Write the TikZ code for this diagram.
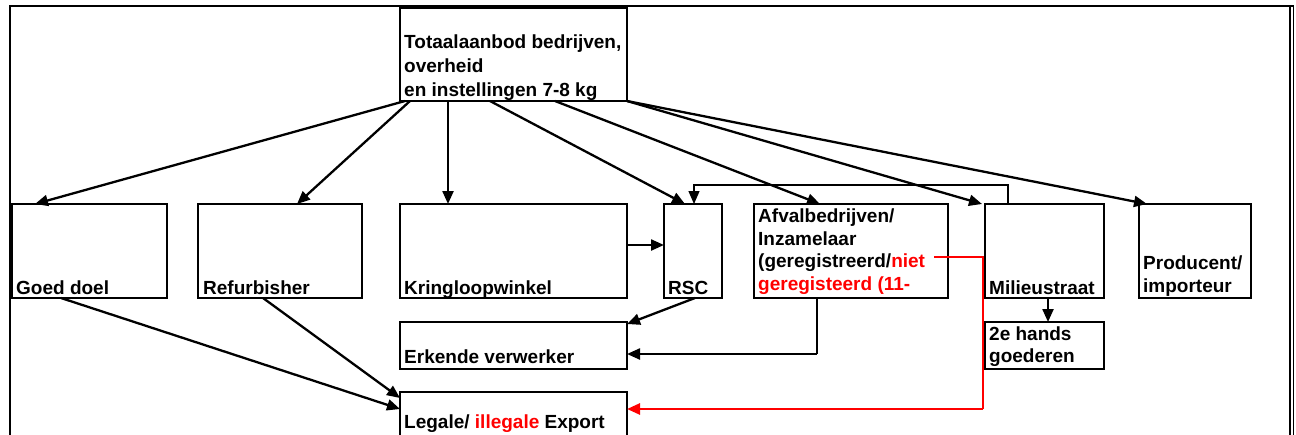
\documentclass[tikz,border=0pt]{standalone}
\usepackage{fontspec}
\setmainfont{Liberation Sans}
\usetikzlibrary{arrows.meta}
\definecolor{rred}{RGB}{255,0,0}
\begin{document}
\begin{tikzpicture}[x=1pt,y=-1pt,
  box/.style={draw,line width=2.8pt,inner sep=0pt,outer sep=0pt,anchor=north west},
  lbl/.style={inner sep=0pt,anchor=base west,align=left,font=\fontsize{19}{23}\selectfont\bfseries},
  arr/.style={line width=2.3pt,-{Triangle[length=13pt,width=11pt]}},
  thinarr/.style={line width=1.2pt,-{Triangle[length=13pt,width=11pt]}},
  thinline/.style={line width=1.2pt},
  redline/.style={line width=1.2pt,draw=rred},
  redarr/.style={line width=2.6pt,draw=rred,-{Triangle[length=13pt,width=11pt]}},
  frame/.style={line width=2.2pt}]
\useasboundingbox (0,0) rectangle (1296,434);
% outer frame
\draw[frame] (10,440) -- (10,5.7) -- (1294.3,5.7);
\draw[line width=2pt] (1290,5.7) -- (1290,440);
\draw[line width=1.6pt] (1293.5,5.7) -- (1293.5,440);
% boxes
\node[box,minimum width=227pt,minimum height=93pt] (top) at (400,8) {};
\node[box,minimum width=155pt,minimum height=94pt] (gd) at (12,204) {};
\node[box,minimum width=164pt,minimum height=94pt] (ref) at (198,204) {};
\node[box,minimum width=227pt,minimum height=94pt] (kr) at (400,204) {};
\node[box,minimum width=58pt,minimum height=94pt] (rsc) at (664,204) {};
\node[box,minimum width=194pt,minimum height=94pt] (afv) at (754,204) {};
\node[box,minimum width=119pt,minimum height=94pt] (mil) at (985,204) {};
\node[box,minimum width=112pt,minimum height=94pt] (prod) at (1139,204) {};
\node[box,minimum width=227pt,minimum height=47pt] (erk) at (400,322) {};
\node[box,minimum width=119pt,minimum height=47pt] (hands) at (985,322) {};
\node[box,minimum width=227pt,minimum height=60pt] (leg) at (400,392) {};
% labels (base anchor = last line)
\node[lbl,font=\fontsize{19}{24}\selectfont\bfseries] (topt) at (404,96) {Totaalaanbod bedrijven,\\overheid\\en instellingen 7-8 kg};
\node[lbl] (gdt) at (16,294) {Goed doel};
\node[lbl] (reft) at (203,294) {Refurbisher};
\node[lbl] (krt) at (404,294) {Kringloopwinkel};
\node[lbl] (rsct) at (668,294) {RSC};
\node[lbl,font=\fontsize{19}{22.5}\selectfont\bfseries] (afvt) at (758,290) {Afvalbedrijven/\\Inzamelaar\\(geregistreerd/\textcolor{rred}{niet}\\\textcolor{rred}{geregisteerd (11-}};
\node[lbl] (milt) at (989,294) {Milieustraat};
\node[lbl] (prodt) at (1143,292) {Producent/\\importeur};
\node[lbl] (erkt) at (404,363) {Erkende verwerker};
\node[lbl,font=\fontsize{19}{22}\selectfont\bfseries] (handst) at (989,362) {2e hands\\goederen};
\node[lbl] (legt) at (404,428) {Legale/ \textcolor{rred}{illegale} Export};
% connectors from top box
\draw[arr] ([xshift=5pt]top.south west) -- ([xshift=23pt]gd.north west);
\draw[arr] ([xshift=10pt]top.south west) -- ([xshift=99pt]ref.north west);
\draw[arr] ([xshift=48pt]top.south west) -- ([xshift=48pt]kr.north west);
\draw[arr] ([xshift=90pt]top.south west) -- ([xshift=21pt]rsc.north west);
\draw[arr] ([xshift=155pt]top.south west) -- ([xshift=66pt]afv.north west);
\draw[arr] (top.south east) -- ([xshift=-3pt]mil.north west);
\draw[arr] (top.south east) -- ([xshift=8pt]prod.north west);
% other connectors
\draw[arr] ([yshift=6pt]kr.east) -- ([yshift=6pt]rsc.west);
\draw[thinarr] ([xshift=23pt]mil.north west) -- ++(0,-19) -| ([xshift=30pt]rsc.north west);
\draw[arr] ([xshift=31pt]rsc.south west) -- ([yshift=-2pt]erk.north east);
\coordinate (afk) at (817,354);
\draw[thinline] (afv.south -| afk) -- (afk);
\draw[arr] (afk) -- (erk.east |- afk);
\coordinate (r1) at (934,257);
\coordinate (r2) at (983,257);
\coordinate (r3) at (983,409);
\draw[redline] (r1) -- (r2) -- (r3);
\draw[redarr] (r3) -- (leg.east |- r3);
\draw[arr] ([xshift=63pt]mil.south west) -- ([xshift=63pt]hands.north west);
\draw[arr] ([xshift=49pt]gd.south west) -- ([yshift=-17pt]leg.north west);
\draw[arr] ([xshift=65pt]ref.south west) -- ([yshift=-6pt]leg.north west);
\end{tikzpicture}
\end{document}
